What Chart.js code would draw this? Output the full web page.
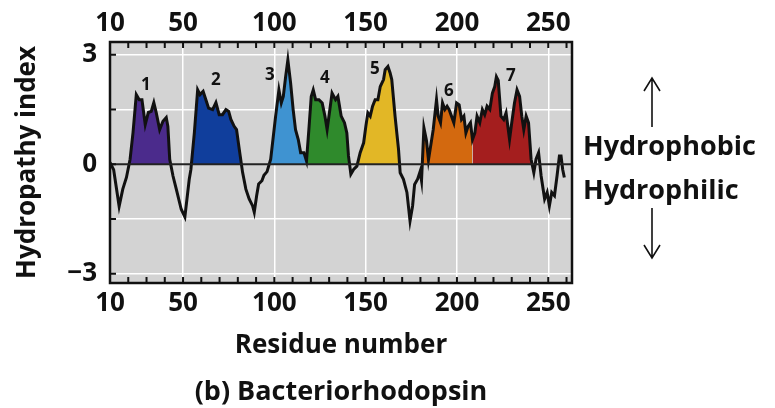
<!DOCTYPE html>
<html><head><meta charset="utf-8">
<script src="https://cdn.jsdelivr.net/npm/chart.js@4.4.1/dist/chart.umd.min.js"></script>
<style>html,body{margin:0;padding:0;background:#fff;}#wrap{width:775px;height:408px;position:relative}</style>
</head><body><div id="wrap"><canvas id="c" width="775" height="408"></canvas></div>
<script>
// ---- data ----
const residues = [10,12,15,17,19,21,22.6,24.4,26,27.5,29.3,31,32.6,34,35.3,37.2,39,40.8,41.7,42.7,44.5,46.3,49,51,53.4,54.3,56.2,58,59.3,61,62.5,64,66.2,68,69.8,71.6,73.5,75,76.2,78,79.3,80.8,82.6,84.4,86.2,88.1,89,90.3,91.4,93.2,94.3,96,98,100.7,102.5,103.8,104.9,106.2,107.4,108.9,110.3,111.6,113.1,114.4,116.2,117.6,118.9,120.2,121.3,122.6,124.4,126.2,127.7,128.9,130.4,131.6,133.5,134.8,136.6,138.4,139.7,140.6,141.9,143.4,145.2,147,148.9,150.1,151.2,152.5,153.8,155.2,156.7,158,159.8,160.7,162.2,163.4,164.3,166.1,168,168.9,170.7,172.6,174.3,175.7,176.8,178.5,179.8,180.6,181.9,183.3,184.4,187,188.8,189.7,191,192.1,193.4,194.6,195.7,197,198.3,199.8,201.2,202.5,203.8,204.9,206.1,207.4,208.5,209.8,211,212.5,213.9,215.2,216.5,218,219.4,220.7,221.6,222.6,224.1,225.6,226.9,228.8,230,231.5,232.9,234.3,235.5,236.6,237.9,239.2,240.6,242.1,243.3,244.7,246.1,248,249.4,250.6,251.9,253.4,254.8,256.1,257,257.9,258.8];
const hydropathy = [0.05,-0.15,-1.15,-0.68,-0.36,0.14,0.87,1.91,1.77,1.77,1.09,1.42,1.45,1.69,1.42,0.95,1.18,1.28,1.04,0.14,-0.32,-0.68,-1.23,-1.44,-0.41,-0.14,0.87,2.04,1.91,2.0,1.77,1.54,1.5,1.69,1.36,1.36,1.5,1.45,1.23,1.04,0.95,0.41,-0.22,-0.68,-0.95,-1.14,-1.31,-0.86,-0.54,-0.45,-0.3,-0.2,0.14,1.32,2.04,1.68,1.86,2.41,2.86,2.23,1.5,0.95,0.68,0.32,0.32,0.09,0.95,1.86,2.04,1.77,1.77,1.68,1.32,0.95,1.5,1.95,1.77,1.86,1.32,1.14,0.86,0.23,-0.27,-0.14,-0.05,0.32,0.59,1.04,1.41,1.32,1.59,1.77,1.77,2.13,2.32,2.59,2.68,2.5,2.32,1.32,0.41,-0.23,-0.41,-0.77,-1.55,-1.14,-0.55,-0.4,-0.2,-0.45,1.0,0.65,0.12,0.95,1.77,1.32,1.14,1.68,1.5,1.59,1.5,1.32,1.14,1.68,1.63,1.23,1.32,0.86,1.04,1.14,0.68,0.86,1.32,1.14,1.5,1.36,1.59,1.5,1.95,2.13,2.4,2.3,1.32,1.23,1.41,0.68,1.14,1.68,2.04,1.86,1.32,0.95,1.32,1.14,0.14,-0.23,0.14,0.32,-0.32,-0.95,-0.77,-1.14,-0.77,-0.86,-0.32,0.23,0.23,-0.14,-0.36];
const segmentNames = ['1','2','3','4','5','6','7'];
const segmentStart = [19,54.3,96,117.6,145.2,180.6,208.5];
const segmentEnd = [44.5,82.6,117.6,141.9,168.9,208.5,242.1];
const segmentLabelResidue = [29.7,68,97.6,127.7,155,195.5,229.5];
const segmentLabelValue = [2.18,2.3,2.45,2.35,2.6,2.0,2.42];
const xTickValues = [10,50,100,150,200,250];
const yTickValues = [-3,-1.5,0,1.5,3];
const yTickLabels = ['\u22123','','0','','3'];
const chartTitle = '(b) Bacteriorhodopsin';

// ---- styles ----
const segmentColors = ['#4b2b8c','#103e9c','#3f93d1','#2f8a2c','#e2b726','#d3690f','#a41e1e'];
const FONT = 'Open Sans';
const bold = (s)=>({family:FONT, size:s, weight:'bold'});

const lineData = residues.map((r,i)=>({x:r,y:hydropathy[i]}));
const segDatasets = segmentNames.map((n,k)=>({
  label:'TM'+n,
  data: lineData.filter(p=>p.x>=segmentStart[k] && p.x<=segmentEnd[k]),
  borderWidth:0, pointRadius:0, tension:0, order:2,
  backgroundColor: segmentColors[k],
  fill:{target:'origin', above:segmentColors[k], below:'rgba(0,0,0,0)'}
}));

const deco = {
  id:'deco',
  beforeDraw(chart){
    const {ctx, chartArea:a} = chart;
    ctx.save(); ctx.fillStyle='#d3d3d3';
    ctx.fillRect(a.left,a.top,a.right-a.left,a.bottom-a.top); ctx.restore();
  },
  afterDatasetsDraw(chart){
    const {ctx, chartArea:a, scales} = chart;
    const y0 = scales.y.getPixelForValue(0);
    ctx.save(); ctx.strokeStyle='#222'; ctx.lineWidth=2;
    ctx.beginPath(); ctx.moveTo(a.left,y0); ctx.lineTo(a.right,y0); ctx.stroke(); ctx.restore();
  },
  afterDraw(chart){
    const {ctx, chartArea:a, scales} = chart;
    const xs = scales.x, ys = scales.y;
    ctx.save();
    ctx.strokeStyle='#111'; ctx.lineWidth=2;
    ctx.beginPath();
    for(let v=20; v<xs.max; v+=10){
      const px = xs.getPixelForValue(v);
      ctx.moveTo(px,a.top); ctx.lineTo(px,a.top+6);
      ctx.moveTo(px,a.bottom); ctx.lineTo(px,a.bottom-6);
    }
    yTickValues.forEach(v=>{const py=ys.getPixelForValue(v); ctx.moveTo(a.left,py); ctx.lineTo(a.left+6,py);});
    ctx.stroke();
    ctx.lineWidth=2.5; ctx.strokeStyle='#111';
    ctx.strokeRect(a.left,a.top,a.right-a.left,a.bottom-a.top);
    ctx.fillStyle='#111'; ctx.font='bold 17px "'+FONT+'"';
    ctx.textAlign='center'; ctx.textBaseline='middle';
    segmentNames.forEach((n,k)=>{
      ctx.fillText(n, xs.getPixelForValue(segmentLabelResidue[k]), ys.getPixelForValue(segmentLabelValue[k]));
    });
    // bottom title, centred under the plot area
    ctx.font='bold 27px "'+FONT+'"';
    ctx.fillText(chartTitle, (a.left+a.right)/2, 392);
    // right annotation
    ctx.textAlign='left'; ctx.textBaseline='alphabetic';
    ctx.fillText('Hydrophobic', 583, 155);
    ctx.fillText('Hydrophilic', 583, 199);
    ctx.lineWidth=1.6; ctx.strokeStyle='#111';
    ctx.beginPath();
    ctx.moveTo(652,127); ctx.lineTo(652,79);
    ctx.moveTo(644,91); ctx.lineTo(652,78); ctx.lineTo(660,91);
    ctx.moveTo(652,208); ctx.lineTo(652,257);
    ctx.moveTo(644,245); ctx.lineTo(652,258); ctx.lineTo(660,245);
    ctx.stroke();
    ctx.restore();
  }
};

new Chart(document.getElementById('c'), {
  type:'line',
  data:{datasets:[
    {label:'Hydropathy', data:lineData, borderColor:'#111', borderWidth:3, pointRadius:0, tension:0, fill:false, order:0},
    ...segDatasets
  ]},
  options:{
    responsive:false, animation:false, parsing:true,
    layout:{padding:{left:12,right:203,top:0,bottom:33.2}},
    plugins:{ legend:{display:false}, tooltip:{enabled:false}, title:{display:false} },
    scales:{
      x:{type:'linear', position:'bottom', min:10, max:263,
        afterBuildTicks:s=>{s.ticks = xTickValues.map(v=>({value:v}));},
        ticks:{color:'#111', font:bold(26), padding:5, maxRotation:0, autoSkip:false},
        grid:{drawTicks:false, lineWidth:1.5, color:ctx=> (ctx.tick && ctx.tick.value===10) ? 'rgba(0,0,0,0)' : '#ffffff'},
        border:{display:false},
        title:{display:true, text:'Residue number', color:'#111', font:bold(26), padding:{top:0,bottom:14}},
        afterFit:s=>{s.height = 91.8;}
      },
      x2:{type:'linear', position:'top', min:10, max:263,
        afterBuildTicks:s=>{s.ticks = xTickValues.map(v=>({value:v}));},
        ticks:{color:'#111', font:bold(26), padding:3, maxRotation:0, autoSkip:false},
        grid:{display:false, drawTicks:false}, border:{display:false},
        afterFit:s=>{s.height = 42;}
      },
      y:{type:'linear', position:'left', min:-3.25, max:3.35,
        afterBuildTicks:s=>{s.ticks = yTickValues.map(v=>({value:v}));},
        ticks:{color:'#111', font:bold(26), padding:13, callback:(v,i)=>yTickLabels[i]},
        grid:{drawTicks:false, lineWidth:1.5, color:ctx=> (ctx.tick && ctx.tick.value===0) ? 'rgba(0,0,0,0)' : '#ffffff'},
        border:{display:false},
        title:{display:true, text:'Hydropathy index', color:'#111', font:bold(26), padding:{top:0,bottom:0}},
        afterFit:s=>{s.width = 98;}
      }
    }
  },
  plugins:[deco]
});
</script></body></html>
